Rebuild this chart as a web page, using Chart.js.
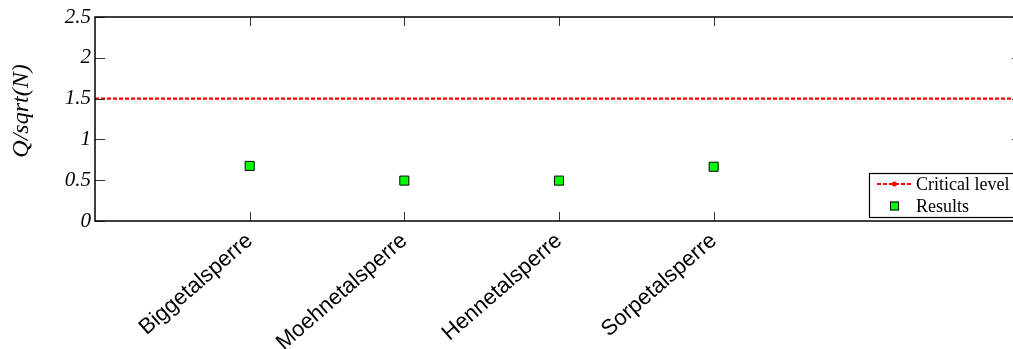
<!DOCTYPE html>
<html>
<head>
<meta charset="utf-8">
<script src="https://cdn.jsdelivr.net/npm/chart.js@4.4.1/dist/chart.umd.min.js"></script>
<style>
  html, body { margin: 0; padding: 0; background: #fff; overflow: hidden; }
  #wrap { width: 1013px; height: 349px; overflow: hidden; }
</style>
</head>
<body>
<div id="wrap"><canvas id="c" width="1024" height="349"></canvas></div>
<script>
// Reservoirs and their measured Q/sqrt(N) values
const categories = ['Biggetalsperre', 'Moehnetalsperre', 'Hennetalsperre', 'Sorpetalsperre'];
const results = [0.675, 0.495, 0.495, 0.665];
const criticalLevel = 1.5;
const yTicks = [0, 0.5, 1, 1.5, 2, 2.5];
const xRange = [0, 6];
const yLabel = 'Q/sqrt(N)';

const resultPoints = categories.map((c, i) => ({ x: i + 1, y: results[i] }));
const criticalPoints = [{ x: xRange[0], y: criticalLevel }, { x: xRange[1], y: criticalLevel }];

const serif = '"Liberation Serif", "Times New Roman", serif';

// Box frame, inward tick marks on all four sides, y-axis label and the legend box
const framePlugin = {
  id: 'frame',
  afterDatasetsDraw(chart) {
    const { ctx, chartArea: a, scales: { x, y } } = chart;
    ctx.save();
    ctx.strokeStyle = '#333';
    ctx.lineWidth = 1;
    ctx.beginPath();
    yTicks.forEach(v => {
      const py = Math.round(y.getPixelForValue(v)) + 0.5;
      ctx.moveTo(a.left, py); ctx.lineTo(a.left + 10, py);
      ctx.moveTo(a.right, py); ctx.lineTo(a.right - 11, py);
    });
    categories.forEach((c, i) => {
      const px = Math.round(x.getPixelForValue(i + 1)) + 0.5;
      ctx.moveTo(px, a.bottom); ctx.lineTo(px, a.bottom - 9);
      ctx.moveTo(px, a.top); ctx.lineTo(px, a.top + 9);
    });
    ctx.stroke();
    ctx.strokeStyle = '#000';
    ctx.lineWidth = 1.5;
    ctx.strokeRect(a.left, a.top, a.right - a.left, a.bottom - a.top);

    // y-axis label
    ctx.save();
    ctx.translate(22, (a.top + a.bottom) / 2 - 8);
    ctx.rotate(-Math.PI / 2);
    ctx.fillStyle = '#000';
    ctx.font = 'italic 24px ' + serif;
    ctx.textAlign = 'center';
    ctx.textBaseline = 'middle';
    ctx.fillText(yLabel, 0, 0);
    ctx.restore();

    // legend
    const lx = 869, ly = 173, lw = 200, lh = 44;
    ctx.fillStyle = '#fff';
    ctx.fillRect(lx, ly, lw, lh);
    ctx.lineWidth = 1.2;
    ctx.strokeStyle = '#000';
    ctx.strokeRect(lx + 0.5, ly + 0.5, lw, lh);
    const d0 = chart.data.datasets[0], d1 = chart.data.datasets[1];
    const r1 = ly + 11, r2 = ly + 33;
    ctx.strokeStyle = d0.borderColor;
    ctx.lineWidth = 2;
    ctx.setLineDash([4, 2]);
    ctx.beginPath(); ctx.moveTo(877, r1); ctx.lineTo(912, r1); ctx.stroke();
    ctx.setLineDash([]);
    ctx.fillStyle = d0.borderColor;
    ctx.beginPath(); ctx.arc(894.5, r1, 2.5, 0, Math.PI * 2); ctx.fill();
    ctx.fillStyle = d1.backgroundColor;
    ctx.strokeStyle = d1.borderColor;
    ctx.lineWidth = 1;
    ctx.fillRect(890, r2 - 4.5, 9, 9);
    ctx.strokeRect(890.5, r2 - 4, 8, 8);
    ctx.fillStyle = '#000';
    ctx.font = '18px ' + serif;
    ctx.textBaseline = 'middle';
    ctx.fillText(d0.label, 916, r1 + 1);
    ctx.fillText(d1.label, 916, r2 + 1);
    ctx.restore();
  }
};

new Chart(document.getElementById('c'), {
  type: 'scatter',
  data: {
    datasets: [
      {
        label: 'Critical level',
        data: criticalPoints,
        showLine: true,
        borderColor: '#ff0000',
        borderWidth: 2.2,
        borderDash: [4, 2],
        pointRadius: 0,
        order: 2
      },
      {
        label: 'Results',
        data: resultPoints,
        pointStyle: 'rect',
        pointRadius: 6.4,
        backgroundColor: '#00ff00',
        borderColor: '#000',
        borderWidth: 1,
        order: 1
      }
    ]
  },
  options: {
    responsive: false,
    animation: false,
    events: [],
    layout: { autoPadding: false, padding: { top: 17, right: 1, left: 0, bottom: 0 } },
    plugins: { legend: { display: false }, tooltip: { enabled: false }, title: { display: false } },
    scales: {
      x: {
        type: 'linear',
        min: xRange[0],
        max: xRange[1],
        afterBuildTicks(scale) { scale.ticks = categories.map((c, i) => ({ value: i + 1 })); },
        afterFit(scale) { scale.height = 128; scale.paddingLeft = 0; scale.paddingRight = 0; },
        grid: { display: false, drawTicks: false },
        border: { display: false },
        ticks: {
          autoSkip: false,
          maxRotation: 41,
          minRotation: 41,
          padding: 7,
          color: '#000',
          font: { family: '"Liberation Sans", Arial, sans-serif', size: 22 },
          callback: v => categories[v - 1] ?? ''
        }
      },
      y: {
        min: 0,
        max: 2.5,
        afterBuildTicks(scale) { scale.ticks = yTicks.map(v => ({ value: v })); },
        afterFit(scale) { scale.width = 95; scale.paddingTop = 0; scale.paddingBottom = 0; },
        grid: { display: false, drawTicks: false },
        border: { display: false },
        ticks: {
          padding: 4,
          color: '#000',
          font: { family: serif, size: 21, style: 'italic' },
          callback: v => String(v)
        }
      }
    }
  },
  plugins: [framePlugin]
});
</script>
</body>
</html>
